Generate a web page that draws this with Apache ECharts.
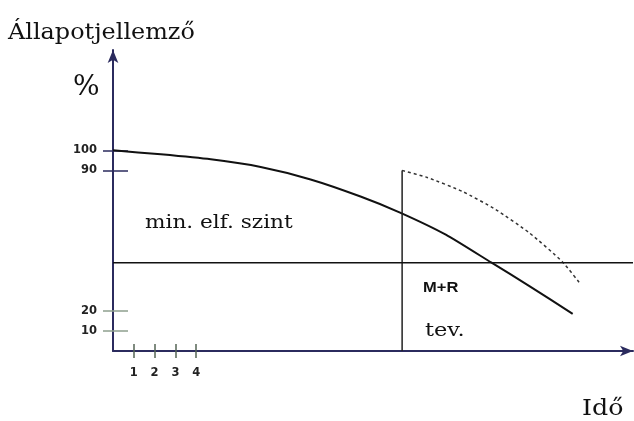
<!DOCTYPE html>
<html>
<head>
<meta charset="utf-8">
<script src="https://cdn.jsdelivr.net/npm/echarts@6/dist/echarts.min.js"></script>
<style>
  html, body { margin: 0; padding: 0; background: #fff; }
  #chart { width: 634px; height: 421px; }
</style>
</head>
<body>
<div id="chart"></div>
<script>
// tick labels
const yTickLabels = [10, 20, 90, 100];
const xTickLabels = [1, 2, 3, 4];
// condition curve (time, %)
const stateCurve = [[0, 100], [2.3, 98], [4.7, 95.5], [7.1, 91.7], [9.5, 85.5], [11.9, 77], [13.8, 69], [16, 58], [18.2, 44], [20, 32.5], [22.1, 18.5]];
// after maintenance + repair
const repairedCurve = [[13.9, 90], [15.1, 86.5], [16.8, 79.5], [18.4, 70.5], [20, 59], [21.6, 44.5], [22.5, 33]];
const interventionLine = [[13.9, 0], [13.9, 90]];
const minLevel = 44;
const xMax = 25;
const yMax = 150;

const navy = '#2b2b5e';
const serif = '"DejaVu Serif", "Liberation Serif", serif';
const sans = '"DejaVu Sans", "Liberation Sans", Arial, sans-serif';

function yTickAxis(values, color, inside, len, labels) {
    return {
        type: 'value', min: 0, max: yMax, position: 'left',
        axisLine: { show: labels, lineStyle: { color: navy, width: 2 }, symbol: ['none', 'arrow'], symbolSize: [8, 13] },
        axisTick: { show: true, inside: inside, length: len, customValues: values, lineStyle: { color: color, width: 1.5 } },
        axisLabel: labels ? { show: true, customValues: yTickLabels, margin: 16, color: '#222', fontFamily: sans, fontWeight: 'bold', fontSize: 11.5 } : { show: false },
        splitLine: { show: false }
    };
}
function xTickAxis(inside, labels) {
    return {
        type: 'value', min: 0, max: xMax, position: 'bottom',
        axisLine: { show: labels, lineStyle: { color: navy, width: 2 }, symbol: ['none', 'arrow'], symbolSize: [8, 13] },
        axisTick: { show: true, inside: inside, length: 7, customValues: xTickLabels, lineStyle: { color: '#556655', width: 1.5 } },
        axisLabel: labels ? { show: true, customValues: xTickLabels, margin: 16, color: '#222', fontFamily: sans, fontWeight: 'bold', fontSize: 11.5 } : { show: false },
        splitLine: { show: false }
    };
}
function label(text, left, top, size, scaleX, family) {
    return {
        type: 'text', left: left, top: top, scaleX: scaleX, originX: left, originY: top,
        style: { text: text, font: size + 'px ' + (family || serif), fill: '#111' }
    };
}

const chart = echarts.init(document.getElementById('chart'));
chart.setOption({
    animation: false,
    grid: { left: 113, top: 50, right: 1, bottom: 70 },
    xAxis: [xTickAxis(false, true), xTickAxis(true, false)],
    yAxis: [
        yTickAxis([90, 100], navy, false, 10, true),
        yTickAxis([90, 100], navy, true, 15, false),
        yTickAxis([10, 20], '#8fa08f', false, 10, false),
        yTickAxis([10, 20], '#8fa08f', true, 15, false)
    ],
    series: [
        {
            type: 'line', data: stateCurve, smooth: 0.2, showSymbol: false,
            lineStyle: { color: '#111', width: 2 }
        },
        {
            type: 'line', data: repairedCurve, smooth: 0.2, showSymbol: false,
            lineStyle: { color: '#333', width: 1.5, type: [3, 3] }
        },
        {
            type: 'line', data: interventionLine, showSymbol: false,
            lineStyle: { color: '#222', width: 1.5 }
        },
        {
            type: 'line', data: [[0, minLevel], [xMax, minLevel]], showSymbol: false,
            lineStyle: { color: '#111', width: 1.5 }
        }
    ],
    graphic: [
        label('Állapotjellemző', 8, 22, 23, 1.04),
        label('%', 73, 74, 28, 1),
        label('Idő', 582, 398, 23, 1.1),
        label('min. elf. szint', 145, 214, 18, 1.2),
        label('tev.', 425, 322, 18, 1.25),
        label('M+R', 423, 280, 'bold 15', 1.1, '"Liberation Sans", Arial, sans-serif')
    ]
});
</script>
</body>
</html>
